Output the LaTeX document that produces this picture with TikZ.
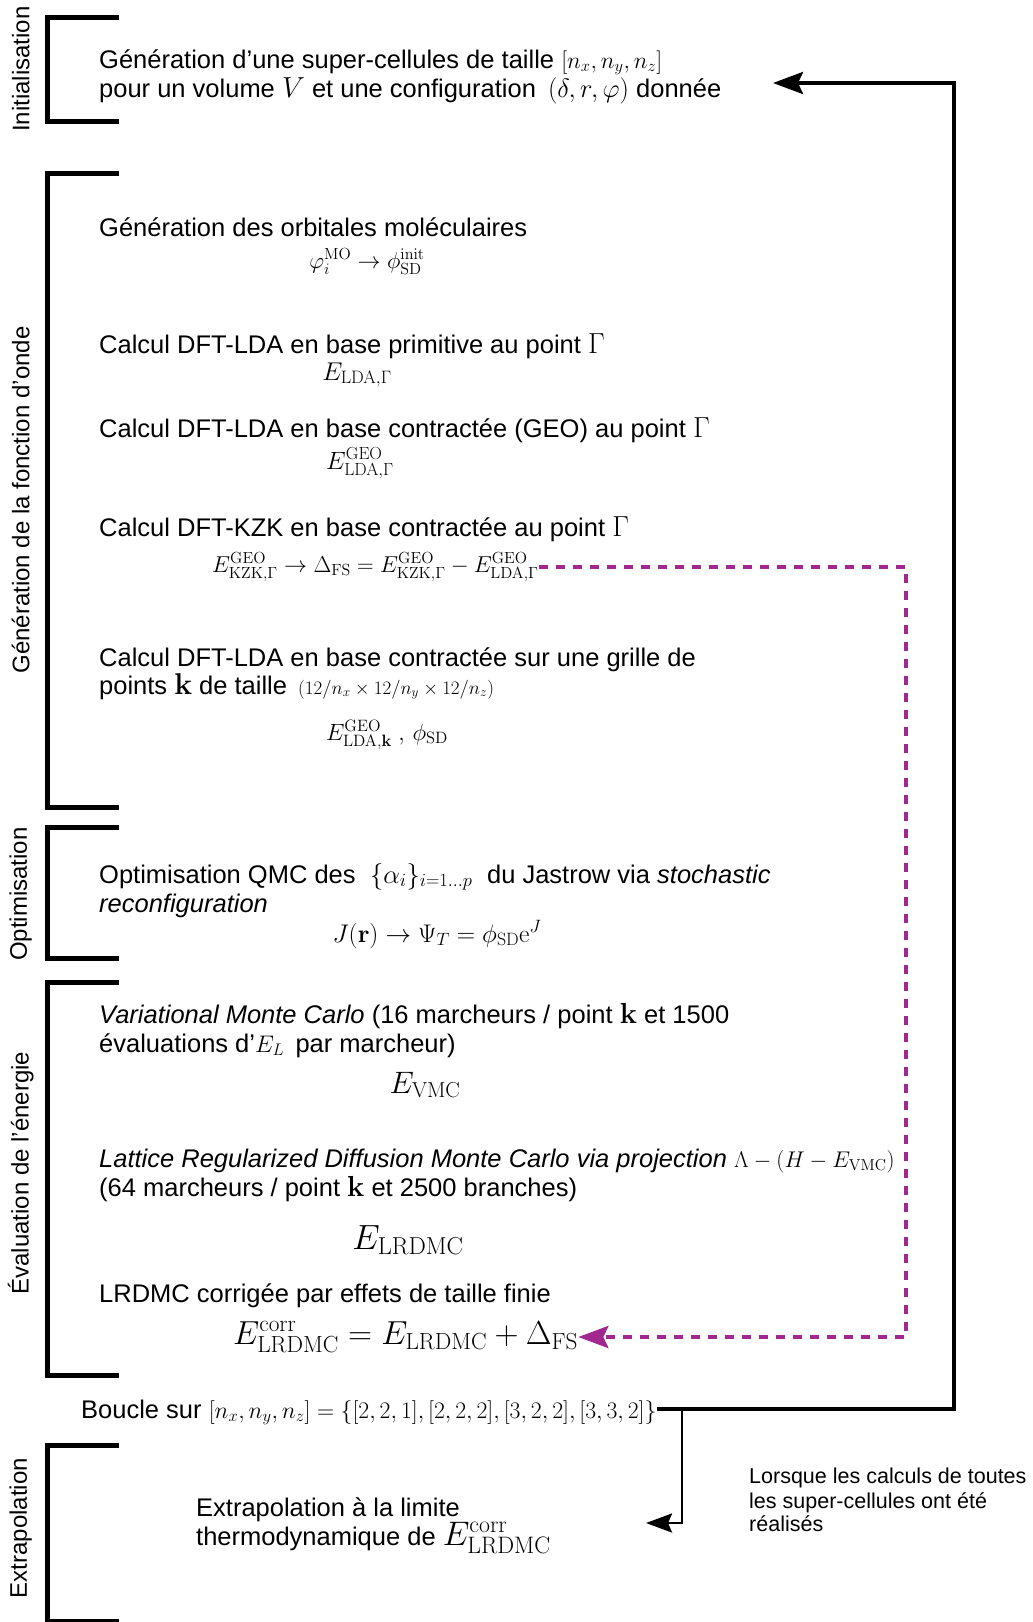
\RequirePackage{fix-cm}
\documentclass[tikz,border=0pt]{standalone}
\usepackage{amsmath}
\usepackage[no-math]{fontspec}
\setmainfont{Liberation Sans}
\usetikzlibrary{arrows.meta}
\definecolor{dashmag}{RGB}{160,40,143}
\newcommand{\msz}[2]{{\fontsize{#1}{#1}\selectfont$#2$}}
\begin{document}
\begin{tikzpicture}[x=1pt,y=-1pt,
  txt/.style={anchor=base west, inner sep=0pt, font=\fontsize{25.5}{30}\selectfont},
  small/.style={anchor=base west, inner sep=0pt, font=\fontsize{21.5}{25}\selectfont},
  eqn/.style={anchor=base, inner sep=0pt},
  side/.style={rotate=90, inner sep=0pt, font=\fontsize{24}{28}\selectfont},
  brk/.style={line width=5pt, line cap=butt, line join=miter},
  bigarrow/.style={line width=3.5pt, line join=miter, -{Stealth[length=30pt,width=22pt,inset=5pt]}},
  midarrow/.style={line width=2.8pt, line join=miter, -{Stealth[length=26pt,width=19pt,inset=4pt]}},
  dasharrow/.style={line width=4pt, dashmag, dash pattern=on 9pt off 8pt, line join=miter, -{Stealth[length=30pt,width=22pt,inset=5pt]}}
]
\useasboundingbox (0,0) rectangle (1033,1622);

% brackets
\draw[brk] (119,17.6) -- (47.6,17.6) -- (47.6,121) -- (119,121);
\draw[brk] (119,173.7) -- (47.6,173.7) -- (47.6,807.6) -- (119,807.6);
\draw[brk] (119,827) -- (47.6,827) -- (47.6,958.5) -- (119,958.5);
\draw[brk] (119,982) -- (47.6,982) -- (47.6,1375) -- (119,1375);
\draw[brk] (119,1445.5) -- (47.6,1445.5) -- (47.6,1621) -- (119,1621);

% side labels
\node[side] (lInit) at (20.7,69) {Initialisation};
\node[side] (lGen) at (20.7,500) {Génération de la fonction d'onde};
\node[side] (lOpt) at (20.7,894) {Optimisation};
\node[side] (lEval) at (20.7,1173) {Évaluation de l'énergie};
\node[side] (lExtra) at (20.7,1528) {Extrapolation};

% Initialisation
\node[txt] (t1) at (99,68) {Génération d’une super-cellules de taille \msz{23.5}{[n_x,n_y,n_z]}};
\node[txt] (t2) at (99,97) {pour un volume \msz{29}{V} et une configuration \hspace{5pt}\msz{26.5}{(\delta,r,\varphi)} donnée};

% Generation
\node[txt] (t3) at (99,236) {Génération des orbitales moléculaires};
\node[eqn] (e3) at (367,268) {\msz{23}{\varphi_i^{\mathrm{MO}}\rightarrow\phi_{\mathrm{SD}}^{\mathrm{init}}}};
\node[txt] (t4) at (99,353) {Calcul DFT-LDA en base primitive au point \msz{29}{\Gamma}};
\node[eqn] (e4) at (357,380) {\msz{25.7}{E_{\mathrm{LDA},\Gamma}}};
\node[txt] (t5) at (99,437) {Calcul DFT-LDA en base contractée (GEO) au point \msz{29}{\Gamma}};
\node[eqn] (e5) at (360,469) {\msz{25}{E_{\mathrm{LDA},\Gamma}^{\mathrm{GEO}}}};
\node[txt] (t6) at (99,536) {Calcul DFT-KZK en base contractée au point \msz{29}{\Gamma}};
\node[eqn, anchor=base west] (e6) at (212,572) {\msz{23}{E_{\mathrm{KZK},\Gamma}^{\mathrm{GEO}}\rightarrow\Delta_{\mathrm{FS}}=E_{\mathrm{KZK},\Gamma}^{\mathrm{GEO}}-E_{\mathrm{LDA},\Gamma}^{\mathrm{GEO}}}};
\node[txt] (t7) at (99,666) {Calcul DFT-LDA en base contractée sur une grille de};
\node[txt] (t8) at (99,694) {points \msz{30}{\mathbf{k}} de taille \hspace{4pt}\msz{19}{(12/n_x\times12/n_y\times12/n_z)}};
\node[eqn] (e8) at (387,740) {\msz{23.5}{E_{\mathrm{LDA},\mathbf{k}}^{\mathrm{GEO}}\;,\,\phi_{\mathrm{SD}}}};

% Optimisation
\node[txt] (t9) at (99,883) {Optimisation QMC des \msz{26.5}{\;\{\alpha_i\}_{i=1\ldots p}\;} du Jastrow via \textit{stochastic}};
\node[txt] (t10) at (99,912) {\textit{reconfiguration}};
\node[eqn] (e10) at (437,942) {\msz{25.5}{J(\mathbf{r})\rightarrow\Psi_T=\phi_{\mathrm{SD}}\mathrm{e}^J}};

% Evaluation
\node[txt] (t11) at (99,1023) {\textit{Variational Monte Carlo} (16 marcheurs / point \msz{29}{\mathbf{k}} et 1500};
\node[txt] (t12) at (99,1052) {évaluations d’\msz{24}{E_L}\, par marcheur)};
\node[eqn] (e12) at (425,1093) {\msz{31}{E_{\mathrm{VMC}}}};
\node[txt] (t13) at (99,1167) {\textit{Lattice Regularized Diffusion Monte Carlo via projection} \msz{22.7}{\Lambda-(H-E_{\mathrm{VMC}})}};
\node[txt] (t14) at (99,1196) {(64 marcheurs / point \msz{29}{\mathbf{k}} et 2500 branches)};
\node[eqn] (e14) at (408,1249) {\msz{35}{E_{\mathrm{LRDMC}}}};
\node[txt] (t15) at (99,1302) {LRDMC corrigée par effets de taille finie};
\node[eqn, anchor=base west] (e15) at (233,1344) {\msz{33.3}{E_{\mathrm{LRDMC}}^{\mathrm{corr}}=E_{\mathrm{LRDMC}}+\Delta_{\mathrm{FS}}}};

% Loop
\node[txt] (boucle) at (81,1418) {Boucle sur \msz{23.7}{[n_x,n_y,n_z]=\{[2,2,1],[2,2,2],[3,2,2],[3,3,2]\}}};

% Extrapolation
\node[txt] (t16) at (196,1516) {Extrapolation à la limite};
\node[txt] (t17) at (196,1545) {thermodynamique de \msz{34}{E_{\mathrm{LRDMC}}^{\mathrm{corr}}}};
\node[small] (n1) at (749,1483) {Lorsque les calculs de toutes};
\node[small] (n2) at (749,1508) {les super-cellules ont été};
\node[small] (n3) at (749,1531) {réalisés};

% connectors
\coordinate (loopcorner) at (954,83);
\coordinate (looptip) at (773,83);
\coordinate (branch) at (682,1409);
\coordinate (extrtip) at (646,1523);
\coordinate (dcorner) at (906,1337);

\draw[bigarrow] ([yshift=9pt]boucle.base east) -| (loopcorner) -- (looptip);
\draw[midarrow] (branch) |- (extrtip);
\draw[dasharrow] ([yshift=5pt]e6.base east) -| (dcorner) -- ([yshift=7pt]e15.base east);
\end{tikzpicture}
\end{document}
